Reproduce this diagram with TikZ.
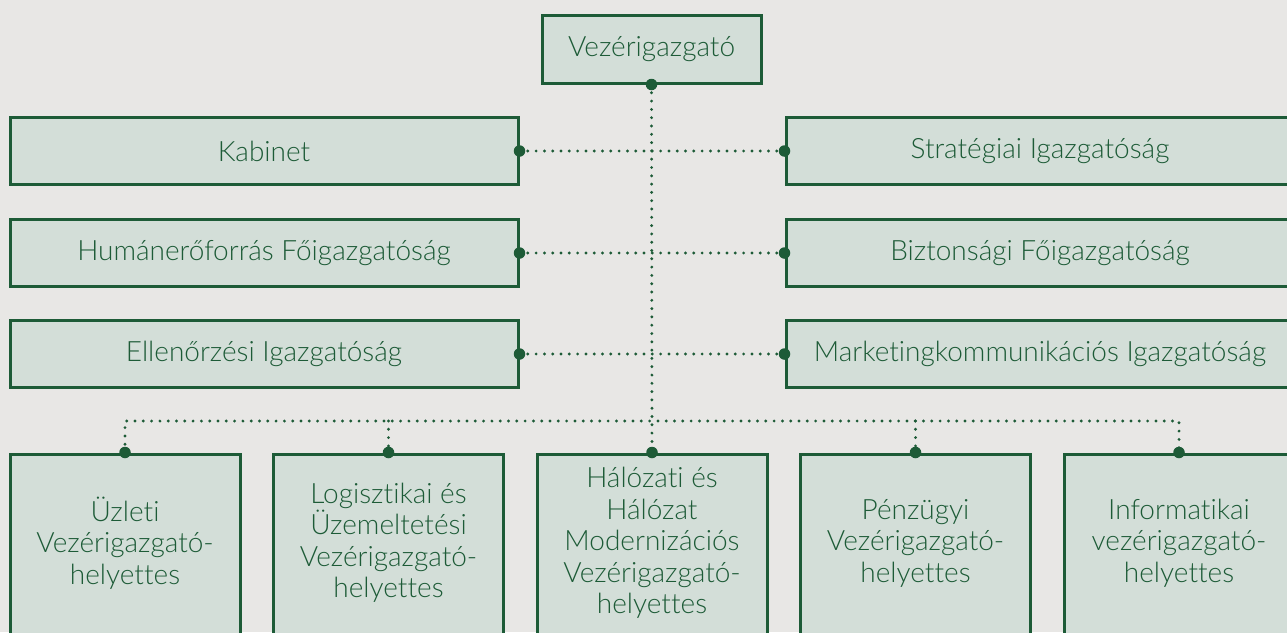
\documentclass[tikz,border=0pt]{standalone}
\usepackage{fontspec}
\setmainfont{Lato}[UprightFont={* Light}, Ligatures=NoCommon]
\definecolor{bg}{HTML}{E8E7E5}
\definecolor{boxfill}{HTML}{D3DED8}
\definecolor{dk}{HTML}{1D5B37}
\begin{document}
\begin{tikzpicture}[x=1pt,y=-1pt,
  box/.style={draw=dk, line width=3pt, fill=boxfill, inner sep=0pt, text=dk, font=\fontsize{28}{31.5}\selectfont},
  wbox/.style={box, minimum width=508pt, minimum height=67pt},
  bbox/.style={box, minimum width=230pt, minimum height=190pt},
  btext/.style={text=dk, align=center, inner sep=0pt, font=\fontsize{28}{31.5}\selectfont},
  conn/.style={draw=dk, line width=3.2pt, line cap=round, dash pattern=on 0pt off 8.3pt},
  jdot/.style={circle, fill=dk, inner sep=0pt, minimum size=11.5pt}]
\fill[bg] (0,0) rectangle (1287,632);
\useasboundingbox (0,0) rectangle (1287,632);
\clip (0,0) rectangle (1287,632);

% nodes
\node[box, minimum width=219pt, minimum height=68pt] (ceo) at (651.5,49) {Vezérigazgató};
\node[wbox] (kab) at (264,151) {Kabinet};
\node[wbox] (hum) at (264,253) {Humánerőforrás Főigazgatóság};
\node[wbox] (ell) at (264,354) {Ellenőrzési Igazgatóság};
\node[wbox] (str) at (1040,151) {Stratégiai Igazgatóság};
\node[wbox] (biz) at (1040,253) {Biztonsági Főigazgatóság};
\node[wbox] (mar) at (1040,354) {Marketingkommunikációs Igazgatóság};

\node[bbox] (b1) at (125,549) {};
\node[bbox] (b2) at (388.5,549) {};
\node[bbox] (b3) at (652,549) {};
\node[bbox] (b4) at (915.5,549) {};
\node[bbox] (b5) at (1179,549) {};
\node[btext] (t1) at (125,543) {Üzleti\\Vezérigazgató-\\helyettes};
\node[btext] (t2) at (388.5,543) {Logisztikai és\\Üzemeltetési\\Vezérigazgató-\\helyettes};
\node[btext] (t3) at (652,543) {Hálózati és\\Hálózat\\Modernizációs\\Vezérigazgató-\\helyettes};
\node[btext] (t4) at (915.5,543) {Pénzügyi\\Vezérigazgató-\\helyettes};
\node[btext] (t5) at (1179,543) {Informatikai\\vezérigazgató-\\helyettes};

% connectors
\coordinate (bus) at (0,421);
\draw[conn] (ceo.south) -- (b3.north);
\draw[conn] (kab.east) -- (str.west);
\draw[conn] (hum.east) -- (biz.west);
\draw[conn] (ell.east) -- (mar.west);
\draw[conn] (b1.north) -- (b1.north |- bus) -- (b5.north |- bus) -- (b5.north);
\draw[conn] (b2.north |- bus) -- (b2.north);
\draw[conn] (b4.north |- bus) -- (b4.north);

% junction dots
\node[jdot] (d0) at (ceo.south) {};
\node[jdot] (d1) at (kab.east) {};
\node[jdot] (d2) at (str.west) {};
\node[jdot] (d3) at (hum.east) {};
\node[jdot] (d4) at (biz.west) {};
\node[jdot] (d5) at (ell.east) {};
\node[jdot] (d6) at (mar.west) {};
\node[jdot] (e1) at (b1.north) {};
\node[jdot] (e2) at (b2.north) {};
\node[jdot] (e3) at (b3.north) {};
\node[jdot] (e4) at (b4.north) {};
\node[jdot] (e5) at (b5.north) {};
\end{tikzpicture}
\end{document}
